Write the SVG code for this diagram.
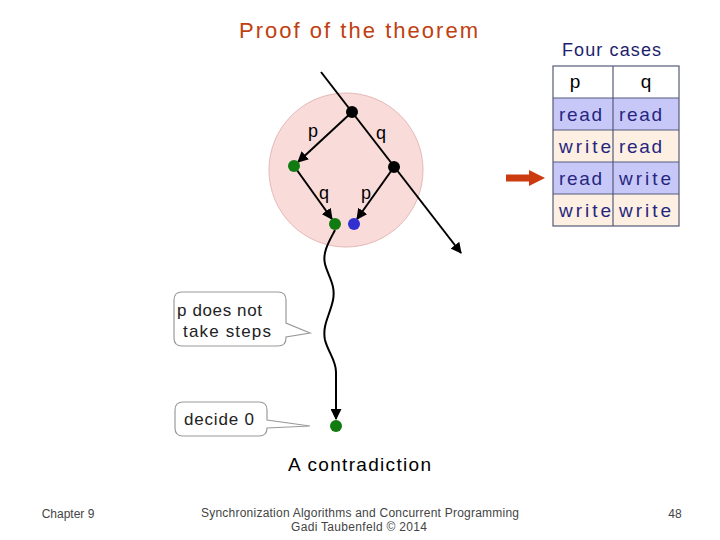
<svg xmlns="http://www.w3.org/2000/svg" width="720" height="540" viewBox="0 0 720 540">
<style>
text{font-family:"Liberation Sans","DejaVu Sans",sans-serif}
.edge{stroke:#000;stroke-width:2;fill:none}
.lbl{font-size:18px;fill:#000}
.cell{font-size:19px;fill:#262680}
.call{fill:#fff;stroke:#9a9a9a;stroke-width:1.2}
.foot{font-size:12px;fill:#444}
</style>
<defs>
<marker id="ah" viewBox="0 0 10 10" refX="9" refY="5" markerWidth="5.5" markerHeight="5.5" orient="auto"><path d="M0,0 L10,5 L0,10 z" fill="#000"/></marker>
</defs>
<rect width="720" height="540" fill="#fff"/>
<text x="239" y="38" font-size="22" fill="#c0400f" textLength="239" lengthAdjust="spacing">Proof of the theorem</text>
<text x="562" y="56" font-size="18" fill="#1e1e6e" textLength="99" lengthAdjust="spacing">Four cases</text>

<circle id="region" cx="346" cy="170" r="77" fill="#f9dcda" stroke="#e4b8b6" stroke-width="1"/>

<g id="connectors">
<path class="edge" d="M321,72 L461,253" marker-end="url(#ah)"/>
<path class="edge" d="M352,112 L298,162" marker-end="url(#ah)"/>
<path class="edge" d="M294,166 L332,219" marker-end="url(#ah)"/>
<path class="edge" d="M394,167 L357,219" marker-end="url(#ah)"/>
<path class="edge" d="M335,230 C330,240 322,252 325,264 C328,276 336,285 333,300 C330,315 322,325 325,340 C328,352 336,360 336,372 L336,419" marker-end="url(#ah)"/>
<path d="M506,178 L531,178" stroke="#cc3a10" stroke-width="7"/>
<path d="M529,170 L545,178 L529,186 z" fill="#cc3a10"/>
</g>

<g id="n-top"><circle cx="352" cy="112" r="6" fill="#000"/></g>
<g id="n-right"><circle cx="394" cy="167" r="6" fill="#000"/></g>
<g id="n-left"><circle cx="294" cy="166" r="6" fill="#117a11"/></g>
<g id="n-bottom-green"><circle cx="335" cy="224" r="6" fill="#117a11"/></g>
<g id="n-bottom-blue"><circle cx="354" cy="224" r="6" fill="#3030d0"/></g>
<g id="n-decide"><circle cx="336" cy="426" r="6" fill="#117a11"/></g>

<g id="labels">
<text class="lbl" x="313" y="137" text-anchor="middle">p</text>
<text class="lbl" x="381" y="139" text-anchor="middle">q</text>
<text class="lbl" x="324" y="199" text-anchor="middle">q</text>
<text class="lbl" x="366" y="199" text-anchor="middle">p</text>
</g>

<g id="callout-steps">
<path class="call" d="M182,292 H278 Q286,292 286,300 V323 L310,333 L286,337 V338 Q286,346 278,346 H182 Q174,346 174,338 V300 Q174,292 182,292 Z"/>
<text x="177" y="316" font-size="17" fill="#222" textLength="85" lengthAdjust="spacing">p does not</text>
<text x="183" y="337" font-size="17" fill="#222" textLength="88" lengthAdjust="spacing">take steps</text>
</g>
<g id="callout-decide">
<path class="call" d="M183,402 H259 Q267,402 267,410 V420 L310,426 L267,428 Q267,436 259,436 H183 Q175,436 175,428 V410 Q175,402 183,402 Z"/>
<text x="184" y="425" font-size="17" fill="#222" textLength="70" lengthAdjust="spacing">decide 0</text>
</g>

<g id="table">
<rect x="553" y="66" width="126" height="32" fill="#fff"/>
<rect x="553" y="98" width="126" height="32" fill="#c8c8f8"/>
<rect x="553" y="130" width="126" height="32" fill="#fdf0e2"/>
<rect x="553" y="162" width="126" height="32" fill="#c8c8f8"/>
<rect x="553" y="194" width="126" height="32" fill="#fdf0e2"/>
<g stroke="#555a7a" stroke-width="1.2" fill="none">
<rect x="553" y="66" width="126" height="160"/>
<line x1="613" y1="66" x2="613" y2="226"/>
<line x1="553" y1="98" x2="679" y2="98"/>
<line x1="553" y1="130" x2="679" y2="130"/>
<line x1="553" y1="162" x2="679" y2="162"/>
<line x1="553" y1="194" x2="679" y2="194"/>
</g>
<text x="575" y="88" text-anchor="middle" font-size="19" fill="#000">p</text>
<text x="646" y="88" text-anchor="middle" font-size="19" fill="#000">q</text>
<text class="cell" x="559" y="121" textLength="43" lengthAdjust="spacing">read</text><text class="cell" x="619" y="121" textLength="43" lengthAdjust="spacing">read</text>
<text class="cell" x="559" y="153" textLength="52" lengthAdjust="spacing">write</text><text class="cell" x="619" y="153" textLength="43" lengthAdjust="spacing">read</text>
<text class="cell" x="559" y="185" textLength="43" lengthAdjust="spacing">read</text><text class="cell" x="619" y="185" textLength="52" lengthAdjust="spacing">write</text>
<text class="cell" x="559" y="217" textLength="52" lengthAdjust="spacing">write</text><text class="cell" x="619" y="217" textLength="52" lengthAdjust="spacing">write</text>
</g>

<text x="288" y="471" font-size="19" fill="#000" textLength="143" lengthAdjust="spacing">A contradiction</text>
<text class="foot" x="68" y="518" text-anchor="middle">Chapter 9</text>
<text class="foot" x="201" y="517" textLength="318" lengthAdjust="spacing">Synchronization Algorithms and Concurrent Programming</text>
<text class="foot" x="291" y="531" textLength="136" lengthAdjust="spacing">Gadi Taubenfeld © 2014</text>
<text class="foot" x="675" y="518" text-anchor="middle">48</text>
</svg>
